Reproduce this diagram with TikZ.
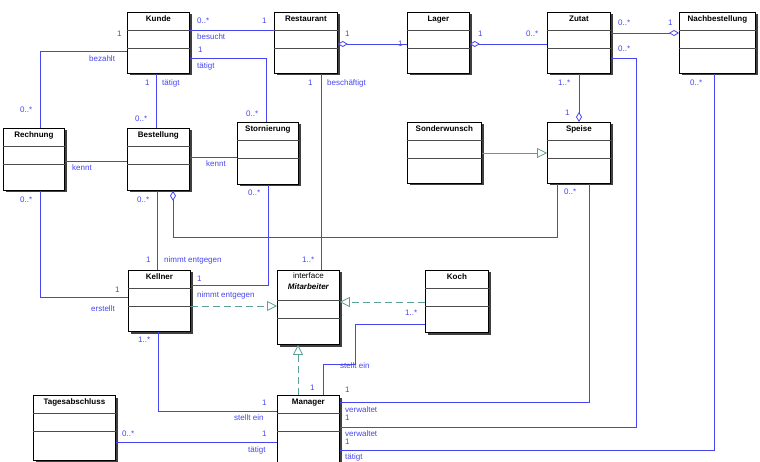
\documentclass[tikz,border=0pt]{standalone}
\usepackage{fontspec}
\setmainfont{Liberation Sans}
\usetikzlibrary{arrows.meta}
\definecolor{ln}{RGB}{70,70,240}
\definecolor{tl}{RGB}{90,160,150}
\tikzset{
  cls/.style={draw=black,fill=white,line width=0.8pt,anchor=north west,inner sep=0pt},
  ttl/.style={font=\fontsize{8}{9}\selectfont\bfseries,anchor=north,inner sep=0pt,yshift=-4pt},
  con/.style={draw=ln,line width=0.8pt},
  lb/.style={text=ln,font=\fontsize{8}{9}\selectfont,inner sep=0pt,anchor=base west},
  agg/.style={con,{Diamond[open,fill=white,length=10pt,width=6pt]}-},
  gen/.style={draw=tl,line width=0.8pt,-{Triangle[open,fill=white,length=10pt,width=10pt]}},
  real/.style={gen,dashed,dash pattern=on 7pt off 4pt},
}
\newcommand\umlcls[6]{% name x y w h title
  \fill[black!75] (#2+2.5,#3+2.5) rectangle ++(#4,#5);
  \node[cls,minimum width=#4pt,minimum height=#5pt] (#1) at (#2,#3) {};
  \node[ttl] (#1t) at (#1.north) {#6};
  \draw[black!70,line width=0.8pt] ([yshift=-18pt]#1.north west) -- ([yshift=-18pt]#1.north east);
  \draw[black!70,line width=0.8pt] ([yshift=-36pt]#1.north west) -- ([yshift=-36pt]#1.north east);
}
\begin{document}
\begin{tikzpicture}[x=1pt,y=-1pt]
\useasboundingbox[fill=white] (0,0) rectangle (760,462);
% connectors first
\coordinate (k1) at (40,51);
\coordinate (k2) at (266,58);
\coordinate (r1) at (40,297);
\coordinate (b1) at (173,237);
\coordinate (b2) at (557,237);
\coordinate (s1) at (268,285);
\coordinate (c1) at (355,324);
\coordinate (c2) at (355,364);
\coordinate (c3) at (323,364);
\coordinate (l1) at (158,411);
\coordinate (m1) at (589,402);
\coordinate (m2) at (636,427);
\coordinate (m3) at (636,58);
\coordinate (m4) at (714,450);

\umlcls{kunde}{127}{12}{62}{61}{Kunde}
\umlcls{rest}{274}{12}{63}{61}{Restaurant}
\umlcls{lager}{407}{12}{62}{61}{Lager}
\umlcls{zutat}{547}{12}{63}{61}{Zutat}
\umlcls{nach}{679}{12}{76}{61}{Nachbestellung}
\umlcls{rech}{3}{128}{61}{62}{Rechnung}
\umlcls{best}{127}{128}{62}{62}{Bestellung}
\umlcls{storn}{237}{122}{61}{62}{Stornierung}
\umlcls{sond}{407}{122}{74}{61}{Sonderwunsch}
\umlcls{speise}{547}{122}{63}{61}{Speise}
\umlcls{kell}{128}{270}{62}{61}{Kellner}
\umlcls{koch}{425}{270}{63}{62}{Koch}
\umlcls{man}{277}{395}{62}{67}{Manager}
\umlcls{tag}{33}{395}{82}{65}{Tagesabschluss}
% Mitarbeiter interface
\fill[black!75] (279.5,272.5) rectangle ++(62,74);
\node[cls,minimum width=62pt,minimum height=74pt] (mit) at (277,270) {};
\node[font=\fontsize{8}{9}\selectfont,anchor=north,inner sep=0pt] (mitt) at ([yshift=-3pt]mit.north) {interface};
\node[font=\fontsize{8}{9}\selectfont\bfseries\itshape,anchor=north,inner sep=0pt] (mitn) at ([yshift=-14pt]mit.north) {Mitarbeiter};
\draw[black!70,line width=0.8pt] ([yshift=-30pt]mit.north west) -- ([yshift=-30pt]mit.north east);
\draw[black!70,line width=0.8pt] ([yshift=-48pt]mit.north west) -- ([yshift=-48pt]mit.north east);

% associations
\draw[con] (kunde.east |- 0,30) -- (rest.west |- 0,30);
\draw[con] (kunde.east |- k2) -- (k2) -- (storn.north -| k2);
\draw[con] (kunde.west |- k1) -- (k1) -- (rech.north -| k1);
\draw[con] (kunde.south -| 156,0) -- (best.north -| 156,0);
\draw[agg] (rest.east |- 0,44) -- (lager.west |- 0,44);
\draw[agg] (lager.east |- 0,44) -- (zutat.west |- 0,44);
\draw[agg] (nach.west |- 0,33) -- (zutat.east |- 0,33);
\draw[agg] (speise.north -| 579,0) -- (zutat.south -| 579,0);
\draw[con] (rest.south -| 321,0) -- (mit.north -| 321,0);
\draw[con] (rech.east |- 0,161) -- (best.west |- 0,161);
\draw[con] (best.east |- 0,157) -- (storn.west |- 0,157);
\draw[gen] (sond.east |- 0,153) -- (speise.west |- 0,153);
\draw[con] (rech.south -| r1) -- (r1) -- (kell.west |- r1);
\draw[con] (best.south -| 157,0) -- (kell.north -| 157,0);
\draw[agg] (best.south -| b1) -- (b1) -- (b2) -- (speise.south -| b2);
\draw[con] (storn.south -| s1) -- (s1) -- (kell.east |- s1);
\draw[real] (kell.east |- 0,306) -- (mit.west |- 0,306);
\draw[real] (koch.west |- 0,302) -- (mit.east |- 0,302);
\draw[real] (man.north -| 298,0) -- (mit.south -| 298,0);
\draw[con] (koch.west |- c1) -- (c1) -- (c2) -- (c3) -- (man.north -| c3);
\draw[con] (kell.south -| l1) -- (l1) -- (man.west |- l1);
\draw[con] (tag.east |- 0,442) -- (man.west |- 0,442);
\draw[con] (man.east |- m1) -- (m1) -- (speise.south -| m1);
\draw[con] (man.east |- m2) -- (m2) -- (m3) -- (zutat.east |- m3);
\draw[con] (man.east |- m4) -- (m4) -- (nach.south -| m4);

% labels
\node[lb] (t1) at (197,24) {0..*};
\node[lb] (t2) at (262,24) {1};
\node[lb] (t3) at (197,40) {besucht};
\node[lb] (t4) at (198,53) {1};
\node[lb] (t5) at (197,69) {tätigt};
\node[lb] (t6) at (246,117) {0..*};
\node[lb] (t7) at (117,37) {1};
\node[lb] (t8) at (89,62) {bezahlt};
\node[lb] (t9) at (20,113) {0..*};
\node[lb] (t10) at (145,86) {1};
\node[lb] (t11) at (162,86) {tätigt};
\node[lb] (t12) at (135,122) {0..*};
\node[lb] (t13) at (345,37) {1};
\node[lb] (t14) at (398,47) {1};
\node[lb] (t15) at (308,86) {1};
\node[lb] (t16) at (327,86) {beschäftigt};
\node[lb] (t17) at (478,37) {1};
\node[lb] (t18) at (526,37) {0..*};
\node[lb] (t19) at (618,26) {0..*};
\node[lb] (t20) at (668,26) {1};
\node[lb] (t21) at (618,52) {0..*};
\node[lb] (t22) at (558,86) {1..*};
\node[lb] (t23) at (565,116) {1};
\node[lb] (t24) at (690,86) {0..*};
\node[lb] (t25) at (72,171) {kennt};
\node[lb] (t26) at (206,167) {kennt};
\node[lb] (t27) at (20,203) {0..*};
\node[lb] (t28) at (137,203) {0..*};
\node[lb] (t29) at (248,196) {0..*};
\node[lb] (t30) at (564,195) {0..*};
\node[lb] (t31) at (146,263) {1};
\node[lb] (t32) at (164,263) {nimmt entgegen};
\node[lb] (t33) at (302,263) {1..*};
\node[lb] (t34) at (197,282) {1};
\node[lb] (t35) at (197,298) {nimmt entgegen};
\node[lb] (t36) at (115,293) {1};
\node[lb] (t37) at (91,311) {erstellt};
\node[lb] (t38) at (405,315) {1..*};
\node[lb] (t39) at (138,342) {1..*};
\node[lb] (t40) at (340,368) {stellt ein};
\node[lb] (t41) at (310,390) {1};
\node[lb] (t42) at (345,392) {1};
\node[lb] (t43) at (262,405) {1};
\node[lb] (t44) at (234,420) {stellt ein};
\node[lb] (t45) at (345,412) {verwaltet};
\node[lb] (t46) at (345,420) {1};
\node[lb] (t47) at (122,436) {0..*};
\node[lb] (t48) at (262,436) {1};
\node[lb] (t49) at (248,452) {tätigt};
\node[lb] (t50) at (345,436) {verwaltet};
\node[lb] (t51) at (345,444) {1};
\node[lb] (t52) at (345,459) {tätigt};
\end{tikzpicture}
\end{document}
